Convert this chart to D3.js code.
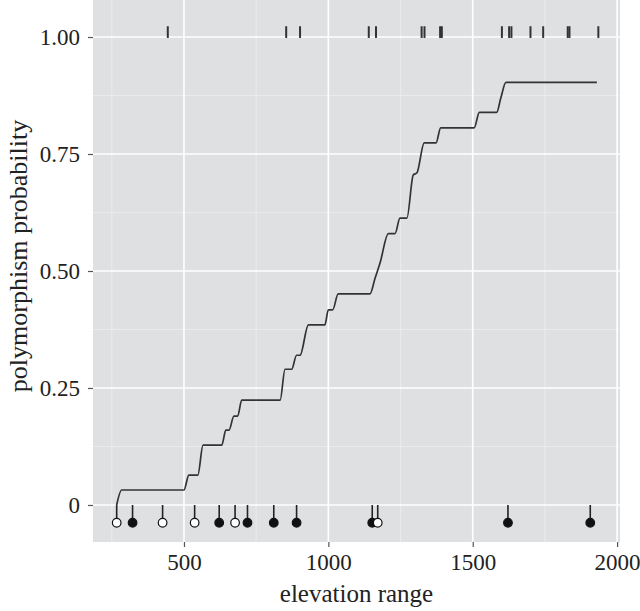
<!DOCTYPE html>
<html>
<head>
<meta charset="utf-8">
<script src="https://cdn.jsdelivr.net/npm/d3@7"></script>
<style>
  body { margin: 0; background: #fff; }
  svg { display: block; }
  text { font-family: "Liberation Serif", "DejaVu Serif", serif; fill: #222; }
</style>
</head>
<body>
<svg width="640" height="611"></svg>
<script>
// Smoothed fit.
var curveX = [267, 284, 500, 517, 548, 566, 631, 645, 656, 673, 686, 700, 833, 850, 873, 890, 902, 931, 988,
    1000, 1015, 1034, 1144, 1162, 1179, 1208, 1231, 1248, 1272, 1294, 1307, 1332, 1373, 1389, 1505, 1523,
    1583, 1597, 1615, 1930];
var curveY = [0, 0.032, 0.032, 0.064, 0.064, 0.128, 0.128, 0.16, 0.16, 0.19, 0.19, 0.224, 0.224, 0.29, 0.29,
    0.32, 0.32, 0.385, 0.385, 0.417, 0.417, 0.451, 0.451, 0.485, 0.517, 0.58, 0.58, 0.613, 0.613, 0.705,
    0.71, 0.774, 0.774, 0.806, 0.806, 0.839, 0.839, 0.869, 0.903, 0.903];

// Rug at the top (polymorphic).
var rugX = [444, 854, 902, 1140, 1165, 1323, 1333, 1387, 1393, 1601, 1626, 1634, 1700, 1744, 1829, 1835, 1935];

// Lollipops at the bottom.
var pointX = [267, 322, 426, 537, 622, 677, 720, 811, 890, 1152, 1171, 1622, 1907];
var pointFilled = [false, true, false, false, true, false, true, true, true, true, false, true, true];

var xTicks = [500, 1000, 1500, 2000];
var xMinor = [250, 750, 1250, 1750];
var yTicks = [0, 0.25, 0.5, 0.75, 1];
var yTickLabels = ["0", "0.25", "0.50", "0.75", "1.00"];
var yMinor = [0.125, 0.375, 0.625, 0.875];

var panel = { left: 93, right: 620, top: 0, bottom: 542 };

var x = d3.scaleLinear().domain([185, 2010]).range([panel.left, panel.right]);
var y = d3.scaleLinear().domain([-0.0791, 1.0791]).range([panel.bottom, panel.top]);

var svg = d3.select("svg");

svg.append("rect")
    .attr("x", panel.left)
    .attr("y", panel.top)
    .attr("width", panel.right - panel.left)
    .attr("height", panel.bottom - panel.top)
    .attr("fill", "#dfe0e2");

var grid = svg.append("g");
grid.selectAll(".xminor").data(xMinor).enter().append("line")
    .attr("x1", d => x(d)).attr("x2", d => x(d))
    .attr("y1", panel.top).attr("y2", panel.bottom)
    .attr("stroke", "#ebebed").attr("stroke-width", 1);
grid.selectAll(".yminor").data(yMinor).enter().append("line")
    .attr("x1", panel.left).attr("x2", panel.right)
    .attr("y1", d => y(d)).attr("y2", d => y(d))
    .attr("stroke", "#ebebed").attr("stroke-width", 1);
grid.selectAll(".xmajor").data(xTicks).enter().append("line")
    .attr("x1", d => x(d)).attr("x2", d => x(d))
    .attr("y1", panel.top).attr("y2", panel.bottom)
    .attr("stroke", "#fff").attr("stroke-width", 1.6);
grid.selectAll(".ymajor").data(yTicks).enter().append("line")
    .attr("x1", panel.left).attr("x2", panel.right)
    .attr("y1", d => y(d)).attr("y2", d => y(d))
    .attr("stroke", "#fff").attr("stroke-width", 1.6);

// Axes
var xAxis = d3.axisBottom(x).tickValues(xTicks).tickFormat(d3.format("d")).tickSize(5).tickPadding(7);
var gx = svg.append("g").attr("transform", "translate(0," + panel.bottom + ")").call(xAxis)
    .attr("font-family", null);
gx.select(".domain").remove();
gx.selectAll(".tick line").attr("stroke", "#555").attr("stroke-width", 1.2);
gx.selectAll(".tick text").attr("font-size", 23).attr("fill", "#222");

var yAxis = d3.axisLeft(y).tickValues(yTicks).tickFormat((d, i) => yTickLabels[i]).tickSize(5).tickPadding(8);
var gy = svg.append("g").attr("transform", "translate(" + panel.left + ",0)").call(yAxis)
    .attr("font-family", null);
gy.select(".domain").remove();
gy.selectAll(".tick line").attr("stroke", "#555").attr("stroke-width", 1.2);
gy.selectAll(".tick text").attr("font-size", 23).attr("fill", "#222");

// Rug at top
svg.append("g").selectAll("line").data(rugX).enter().append("line")
    .attr("x1", d => x(d)).attr("x2", d => x(d))
    .attr("y1", y(0.998)).attr("y2", y(1.023))
    .attr("stroke", "#333").attr("stroke-width", 2);

// Fitted curve
var line = d3.line()
    .x(d => x(d[0]))
    .y(d => y(d[1]))
    .curve(d3.curveMonotoneX);
svg.append("path")
    .datum(d3.zip(curveX, curveY))
    .attr("d", line)
    .attr("fill", "none")
    .attr("stroke", "#333")
    .attr("stroke-width", 1.7);

// Lollipops
var pts = pointX.map((v, i) => ({ x: v, filled: pointFilled[i] }));
var lp = svg.append("g");
lp.selectAll("line").data(pts).enter().append("line")
    .attr("x1", d => x(d.x)).attr("x2", d => x(d.x))
    .attr("y1", y(0)).attr("y2", y(-0.038))
    .attr("stroke", "#222").attr("stroke-width", 1.6);
lp.selectAll("circle").data(pts).enter().append("circle")
    .attr("cx", d => x(d.x))
    .attr("cy", y(-0.038))
    .attr("r", 4.3)
    .attr("fill", d => d.filled ? "#111" : "#fff")
    .attr("stroke", "#111")
    .attr("stroke-width", 1.2);

// Axis titles
svg.append("text")
    .attr("x", (panel.left + panel.right) / 2)
    .attr("y", 602)
    .attr("text-anchor", "middle")
    .attr("font-size", 25)
    .text("elevation range");

svg.append("text")
    .attr("transform", "translate(27,256) rotate(-90)")
    .attr("text-anchor", "middle")
    .attr("font-size", 26)
    .text("polymorphism probability");
</script>
</body>
</html>
